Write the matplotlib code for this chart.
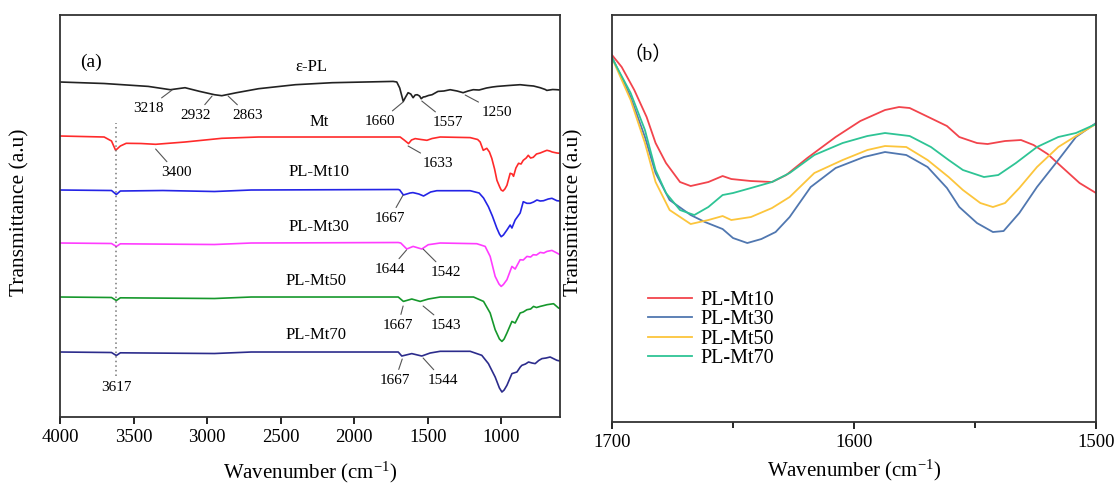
import numpy as np
import matplotlib
matplotlib.use("Agg")
import matplotlib.pyplot as plt
from matplotlib.ticker import MultipleLocator

plt.rcParams['font.family'] = ['Liberation Serif', 'Noto Sans CJK SC', 'DejaVu Sans']
plt.rcParams['mathtext.fontset'] = 'custom'
plt.rcParams['mathtext.rm'] = 'Liberation Serif'
plt.rcParams['mathtext.it'] = 'Liberation Serif:italic'

# ---- panel (a): full FTIR spectra, values relative to each baseline ----
pl_wn = [4000, 3700, 3400, 3250, 3150, 3050, 2950, 2900, 2800, 2650, 2400, 2150, 1735, 1710,
         1690, 1666, 1650, 1633, 1615, 1599, 1585, 1571, 1555, 1544, 1530, 1517, 1495, 1470,
         1430, 1390, 1347, 1300, 1259, 1225, 1190, 1150, 1100, 1060, 1027, 950, 871, 820, 780,
         735, 700, 690, 650, 620, 600]
pl_t = [0, -1.5, -4.4, -7.7, -5.7, -9.4, -12.7, -13.7, -10.7, -6.7, -2.7, -0.7, 0.6, 0,
        -6, -19.4, -15, -10.7, -12, -15.7, -13, -12.7, -14, -16.7, -15, -14.7, -13.5, -12.7,
        -9.4, -9, -7.7, -9, -10.7, -9, -7.7, -8, -6, -5, -4.4, -3.5, -2.7, -3.5, -4,
        -5.7, -7.5, -8.4, -7.5, -7.7, -8]

mt_wn = [4000, 3700, 3650, 3622, 3590, 3550, 3450, 3350, 3150, 2900, 2650, 1700, 1687, 1660,
         1630, 1610, 1585, 1545, 1505, 1470, 1415, 1211, 1160, 1143, 1122, 1098, 1080, 1064,
         1045, 1029, 1010, 1000, 988, 975, 961, 939, 925, 916, 900, 882, 865, 850, 830, 816,
         800, 782, 760, 735, 710, 689, 670, 653, 621, 600]
mt_t = [1, 0, -4, -13.3, -9, -6.3, -6.5, -7.3, -5, -1.3, 0, 0, 0, -3,
        -6.6, -3, -1.6, -2.5, -3.3, -1.5, 0, -0.6, -2.5, -5, -13.3, -11.3, -15, -21.3,
        -32, -43.3, -50, -53, -54, -52, -48.3, -36.3, -37, -39.3, -31, -26.3, -27, -23.3, -21, -18.3,
        -21, -20.3, -17, -16, -14.5, -13.3, -14, -15, -16, -16.3]

m10_wn = [4000, 3650, 3617, 3590, 3300, 2950, 2700, 1700, 1690, 1665, 1620, 1600, 1560, 1528,
          1480, 1438, 1211, 1150, 1120, 1087, 1060, 1030, 1012, 1000, 985, 961, 939, 927, 905,
          871, 850, 825, 803, 780, 757, 735, 712, 680, 655, 621, 600]
m10_t = [0, -0.5, -4.5, -1, -0.5, -1.5, 0, 0.5, 0, -5, -3, -2.6, -4, -6,
         -2, -0.7, -0.7, -3, -8, -16.7, -26, -38, -44, -46.7, -45, -40, -35, -38, -30,
         -23, -11.7, -13.3, -13.3, -12, -10, -11, -10.7, -9, -8.3, -10.7, -11]

m30_wn = [4000, 3650, 3617, 3590, 2950, 2700, 1700, 1683, 1642, 1599, 1540, 1496, 1415, 1166,
          1109, 1075, 1041, 1015, 1000, 985, 961, 927, 905, 871, 850, 825, 800, 782, 760, 735,
          710, 689, 655, 621, 600]
m30_t = [0, -0.5, -3.5, -0.8, -1.5, 0, 0.5, 0, -6, -3.4, -6, -1.7, 0, -0.7,
         -3.4, -13.4, -33.4, -41, -43.4, -41.5, -36.7, -23.4, -26, -16.7, -17, -13.4, -14, -11.7,
         -12, -9.4, -10, -8.4, -7.4, -10, -11.7]

m50_wn = [4000, 3650, 3617, 3590, 2950, 2700, 1700, 1665, 1608, 1551, 1495, 1415, 1188, 1120,
          1075, 1041, 1012, 995, 980, 961, 927, 905, 871, 850, 825, 800, 780, 760, 735, 710,
          689, 644, 610, 600]
m50_t = [0, -0.5, -3.5, -0.8, -1.5, 0, 0, -4.4, -2, -4.4, -2, 0, 0, -4.4,
         -16, -32.7, -42, -44.4, -42, -36, -24.4, -26, -16, -15, -12.7, -12, -9.4, -10.5, -9.4, -8.5,
         -7.7, -6.7, -11, -11.5]

m70_wn = [4000, 3650, 3617, 3590, 2950, 2700, 1700, 1676, 1608, 1540, 1483, 1415, 1211, 1132,
          1087, 1041, 1012, 995, 980, 961, 927, 893, 870, 859, 835, 814, 790, 769, 745, 723,
          695, 667, 621, 600]
m70_t = [0, -0.5, -3.5, -0.8, -1.5, 0, 0, -4, -1.6, -4, -1, 0.7, 0.7, -3.3,
         -11.6, -25, -36, -40, -38, -33.3, -21.6, -20, -15, -13.3, -12, -10, -11, -11.6, -8.5, -6.6,
         -6, -5, -8.3, -9]

names_a = ['ε-PL', 'Mt', 'PL-Mt10', 'PL-Mt30', 'PL-Mt50', 'PL-Mt70']
colors_a = ['#222222', '#ff2a2a', '#2424e6', '#ff3cff', '#16982c', '#2c2c8c']
offsets_a = [335, 280, 227, 174, 120, 65]
spectra_a = [(pl_wn, pl_t), (mt_wn, mt_t), (m10_wn, m10_t), (m30_wn, m30_t),
             (m50_wn, m50_t), (m70_wn, m70_t)]
label_pos_a = [(2290, 350), (2240, 295), (2240, 245), (2240, 190), (2260, 136), (2260, 82)]

# peak annotations: text, text position, point on curve
peaks_a = [
    ('3218', (3401, 309), (3238, 327)),
    ('2932', (3075, 302), (2966, 321)),
    ('2863', (2721, 302), (2857, 321)),
    ('1660', (1823, 296), (1667, 315)),
    ('1557', (1361, 295), (1540, 316)),
    ('1250', (1027, 305), (1245, 322)),
    ('3400', (3211, 245), (3350, 268)),
    ('1633', (1429, 254), (1633, 271)),
    ('1667', (1755, 199), (1667, 222)),
    ('1644', (1755, 148), (1644, 167)),
    ('1542', (1374, 145), (1531, 168)),
    ('1667', (1701, 92), (1667, 111)),
    ('1543', (1374, 92), (1531, 111)),
    ('1667', (1721, 37), (1673, 58)),
    ('1544', (1395, 37), (1531, 59)),
]

# ---- panel (b): 1700-1500 region ----
b10_wn = [1700, 1696, 1690.8, 1685.7, 1682, 1677.7, 1671.9, 1667.5, 1660.2, 1654.3, 1650.7,
          1642.6, 1633.9, 1628, 1619.3, 1607.6, 1597.4, 1587.2, 1581.4, 1577, 1571, 1561.6,
          1556.5, 1549.2, 1544.8, 1537.6, 1531, 1525.8, 1520, 1514.1, 1506.8, 1500]
b10_t = [367, 355, 332, 305, 279, 259, 240, 236, 240, 246, 243,
         241, 240, 247, 264, 285, 301, 312, 315, 314, 307, 296,
         285, 279, 278, 281, 282, 277, 268, 255, 239, 229]

b30_wn = [1700, 1692.3, 1686.4, 1682, 1676.2, 1667.5, 1661.6, 1654.3, 1650, 1644.1, 1638.3,
          1632.4, 1626.6, 1617.9, 1607.6, 1595.9, 1587.2, 1578.4, 1569.6, 1561.6, 1556.5,
          1549.2, 1542.6, 1538.2, 1531.7, 1524.4, 1515.6, 1508.3, 1500]
b30_t = [365, 325, 285, 249, 222, 207, 200, 193, 184, 179, 183,
         190, 205, 235, 254, 265, 270, 267, 255, 234, 215,
         199, 190, 191, 209, 235, 262, 285, 299]

b50_wn = [1700, 1692.3, 1686.4, 1682, 1676.2, 1667.5, 1660.2, 1654.3, 1650.7, 1642.6, 1633.9,
          1626.6, 1616.4, 1604.7, 1594.5, 1587.2, 1578.4, 1569.6, 1560.9, 1555, 1547.8,
          1542.6, 1537.6, 1531.7, 1524.4, 1515.6, 1508.3, 1500]
b50_t = [364, 322, 279, 240, 212, 198, 202, 206, 202, 205, 214,
         225, 249, 262, 272, 276, 275, 262, 245, 232, 219,
         215, 219, 234, 255, 275, 286, 298]

b70_wn = [1700, 1692.3, 1686.4, 1682, 1677.7, 1671.9, 1666, 1660.2, 1654.3, 1650, 1642.6,
          1633.9, 1626.6, 1616.4, 1604.7, 1594.5, 1587.2, 1577, 1568.2, 1560.9, 1555,
          1546.3, 1540.4, 1533.1, 1524.4, 1515.6, 1508.3, 1500]
b70_t = [364, 329, 292, 252, 229, 212, 207, 215, 227, 229, 234,
         240, 249, 267, 279, 286, 289, 286, 275, 262, 252,
         245, 247, 259, 275, 285, 289, 298]

names_b = ['PL-Mt10', 'PL-Mt30', 'PL-Mt50', 'PL-Mt70']
colors_b = ['#f2444c', '#5077b0', '#fcc53c', '#2ec495']
spectra_b = [(b10_wn, b10_t), (b30_wn, b30_t), (b50_wn, b50_t), (b70_wn, b70_t)]

fig = plt.figure(figsize=(11.16, 4.84), dpi=100)
ax1 = fig.add_axes([0.0538, 0.1384, 0.448, 0.8306])
ax2 = fig.add_axes([0.5484, 0.128, 0.4337, 0.841])

# panel (a)
for (wn, t), off, c, name, pos in zip(spectra_a, offsets_a, colors_a, names_a, label_pos_a):
    ax1.plot(wn, np.array(t) + off, color=c, lw=1.2)
    ax1.text(pos[0], pos[1], name, ha='center', va='center', fontsize=12)

for txt, tpos, ppos in peaks_a:
    ax1.annotate(txt, xy=ppos, xytext=tpos, ha='center', va='center', fontsize=11,
                 arrowprops=dict(arrowstyle='-', color='#555555', lw=0.8, shrinkA=1, shrinkB=0))

ax1.vlines(3617, 41, 294, colors='#777777', linestyles=(0, (1, 2)), lw=1.1)
ax1.text(3614, 30, '3617', ha='center', va='center', fontsize=11)
ax1.text(0.062, 0.883, '(a)', transform=ax1.transAxes, ha='center', va='center', fontsize=14)

ax1.set_xlim(4000, 600)
ax1.set_ylim(0, 402)
ax1.set_xticks(np.arange(4000, 999, -500))
ax1.set_yticks([])

# panel (b)
for (wn, t), c, name in zip(spectra_b, colors_b, names_b):
    ax2.plot(wn, t, color=c, lw=1.3, label=name)

ax2.set_xlim(1700, 1500)
ax2.set_ylim(0, 407)
ax2.xaxis.set_major_locator(MultipleLocator(100))
ax2.xaxis.set_minor_locator(MultipleLocator(50))
ax2.set_yticks([])
ax2.text(0.074, 0.902, '（b）', transform=ax2.transAxes, ha='center', va='center', fontsize=14)
ax2.legend(loc='upper left', bbox_to_anchor=(0.074, 0.323), frameon=False, fontsize=14.5,
           handlelength=2.2, handletextpad=0.4, labelspacing=0.02, borderpad=0, borderaxespad=0)

for ax, lp in ((ax1, 10), (ax2, 5)):
    for s in ax.spines.values():
        s.set_color('#333333')
        s.set_linewidth(1.3)
    ax.tick_params(axis='x', which='major', direction='out', length=5, width=1.2,
                   labelsize=13.5, pad=3.5, top=False)
    ax.tick_params(axis='x', which='minor', direction='out', length=4, width=1.2, top=False)
    ax.set_xlabel('Wavenumber (cm$^{-1}$)', fontsize=15, labelpad=lp)

fig.text(20 / 1116, 1 - 212 / 484, 'Transmittance (a.u)', rotation=90, ha='center', va='center',
         fontsize=15.5)
fig.text(574 / 1116, 1 - 212 / 484, 'Transmittance (a.u)', rotation=90, ha='center', va='center',
         fontsize=15.5)

fig.savefig('out.png', dpi=100)
